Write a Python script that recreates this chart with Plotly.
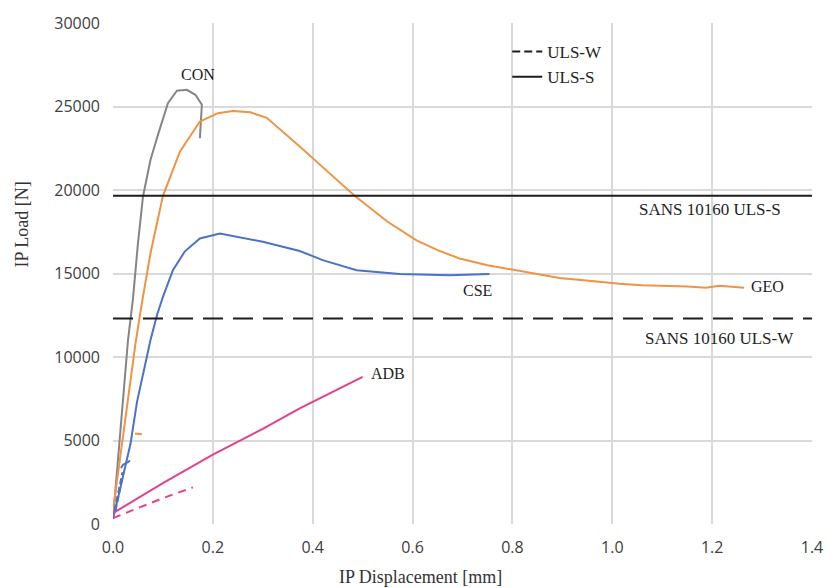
import plotly.graph_objects as go

# ---- data ----
con_x = [0.0, 0.01, 0.02, 0.03, 0.04, 0.05, 0.06, 0.075, 0.09, 0.11, 0.128, 0.148, 0.165, 0.178, 0.174]
con_y = [300, 4000, 7800, 11000, 13500, 16800, 19600, 21800, 23300, 25200, 25950, 26000, 25700, 25100, 23100]

geo_x = [0.0, 0.01, 0.02, 0.034, 0.045, 0.058, 0.075, 0.1, 0.134, 0.174, 0.21, 0.24, 0.275, 0.308, 0.34, 0.374,
         0.43, 0.484, 0.55, 0.608, 0.65, 0.694, 0.75, 0.808, 0.894, 0.974, 1.014, 1.06, 1.114, 1.15, 1.188, 1.214, 1.264]
geo_y = [800, 3000, 5000, 8200, 10800, 13250, 16200, 19650, 22300, 24100, 24600, 24730, 24650, 24320, 23500, 22600,
         21100, 19650, 18100, 16980, 16400, 15900, 15500, 15200, 14730, 14500, 14380, 14300, 14260, 14220, 14140, 14260, 14140]

cse_x = [0.0, 0.005, 0.015, 0.025, 0.035, 0.048, 0.06, 0.075, 0.088, 0.1, 0.12, 0.144, 0.174, 0.214, 0.3, 0.374,
         0.42, 0.488, 0.574, 0.674, 0.754]
cse_y = [300, 900, 2200, 3500, 4800, 7300, 9000, 11000, 12500, 13600, 15200, 16330, 17100, 17400, 16900, 16350,
         15800, 15200, 14970, 14900, 14970]

adb_x = [0.0, 0.1, 0.2, 0.3, 0.374, 0.45, 0.5]
adb_y = [650, 2450, 4150, 5700, 6920, 8050, 8810]

# short ULS-W (serviceability) traces near origin
adb_w_x = [0.0, 0.05, 0.1, 0.16]
adb_w_y = [355, 950, 1550, 2190]
geo_w_x = [0.044, 0.058]
geo_w_y = [5420, 5380]
cse_w_x = [0.004, 0.01, 0.016, 0.02]
cse_w_y = [800, 1700, 2600, 3100]
cse_c_x = [0.016, 0.02, 0.026, 0.03, 0.034]
cse_c_y = [3350, 3550, 3650, 3700, 3800]

uls_s = 19650
uls_w = 12300
x_range = [0.0, 1.4]
y_range = [0, 30000]

GRAY = "#858585"
ORANGE = "#ee9442"
BLUE = "#4a72c8"
PINK = "#e2418c"
BLACK = "#1c1c1c"
SERIF = "Liberation Serif"

fig = go.Figure()

def line(x, y, color, dash=None, width=2):
    fig.add_trace(go.Scatter(x=x, y=y, mode="lines", showlegend=False, hoverinfo="skip",
                             line=dict(color=color, width=width, dash=dash)))

line(con_x, con_y, GRAY)
line(geo_x, geo_y, ORANGE)
line(cse_x, cse_y, BLUE)
line(adb_x, adb_y, PINK)
line(adb_w_x, adb_w_y, PINK, dash="8px,6px")
line(geo_w_x, geo_w_y, ORANGE)
line(cse_w_x, cse_w_y, BLUE, dash="6px,3px", width=3)
line(cse_c_x, cse_c_y, BLUE)

# design lines (drawn without legend)
line(x_range, [uls_w, uls_w], BLACK, dash="20px,10px")
line(x_range, [uls_s, uls_s], BLACK)

# legend entries (empty traces with legend-friendly dash)
fig.add_trace(go.Scatter(x=[None], y=[None], mode="lines", name="ULS-W",
                         line=dict(color=BLACK, width=2, dash="8px,4px")))
fig.add_trace(go.Scatter(x=[None], y=[None], mode="lines", name="ULS-S",
                         line=dict(color=BLACK, width=2)))

labels = [
    ("CON", 0.17, 26900, 16),
    ("GEO", 1.31, 14250, 16),
    ("CSE", 0.73, 14000, 16),
    ("ADB", 0.55, 9000, 16),
    ("SANS 10160 ULS-S", 1.195, 18850, 17),
    ("SANS 10160 ULS-W", 1.215, 11100, 17),
]
for t, x, y, s in labels:
    fig.add_annotation(x=x, y=y, xref="x", yref="y", text=t, showarrow=False,
                       font=dict(family=SERIF, size=s, color="#1e1e1e"))

# axis titles
fig.add_annotation(x=0.44, y=-0.105, xref="paper", yref="paper", text="IP Displacement [mm]",
                   showarrow=False, xanchor="center", yanchor="middle",
                   font=dict(family=SERIF, size=18, color="#333333"))
fig.add_annotation(x=-0.13, y=0.598, xref="paper", yref="paper", text="IP Load [N]", textangle=-90,
                   showarrow=False, xanchor="center", yanchor="middle",
                   font=dict(family=SERIF, size=18, color="#333333"))

fig.update_layout(
    width=835, height=588,
    margin=dict(l=113, r=22, t=16, b=64),
    plot_bgcolor="white", paper_bgcolor="white",
    showlegend=True,
    legend=dict(x=0.564, y=0.978, xanchor="left", yanchor="top", bgcolor="rgba(0,0,0,0)",
                font=dict(family=SERIF, size=17, color="#1e1e1e"), tracegroupgap=0),
    xaxis=dict(range=x_range, dtick=0.2, tick0=0, tickformat=".1f", showgrid=True,
               gridcolor="#d9d9d9", gridwidth=1.5, zeroline=False, showline=False,
               ticks="", ticklabelstandoff=12,
               tickfont=dict(family="Open Sans", size=16, color="#404040")),
    yaxis=dict(range=y_range, dtick=5000, tick0=0, tickformat="d", showgrid=True,
               gridcolor="#d9d9d9", gridwidth=1.5, zeroline=False, showline=False,
               ticks="", ticklabelstandoff=12,
               tickfont=dict(family="Open Sans", size=16, color="#404040")),
)

fig.write_html("out.html")
